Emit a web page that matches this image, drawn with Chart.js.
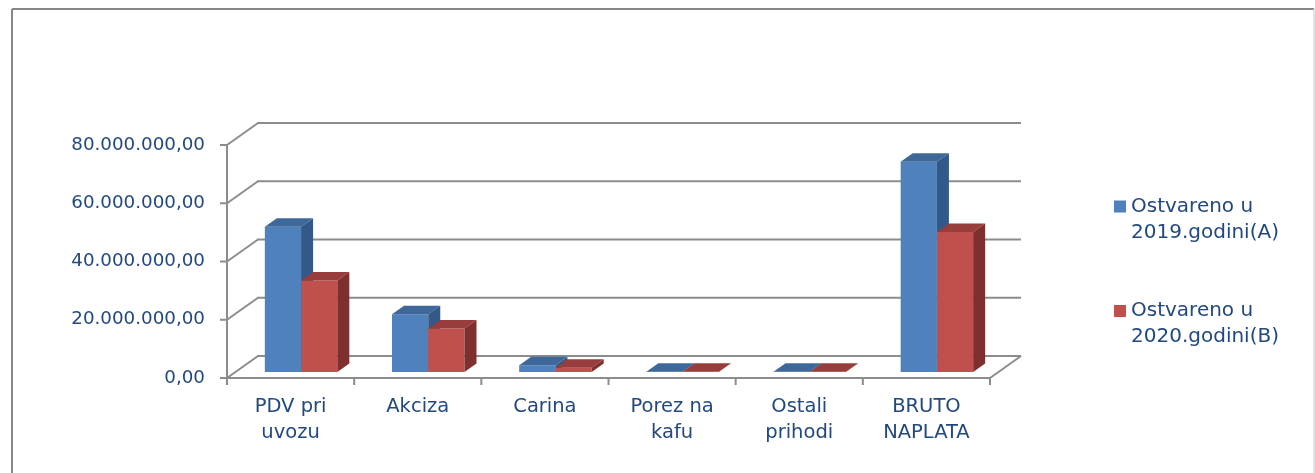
<!DOCTYPE html>
<html>
<head>
<meta charset="utf-8">
<script src="https://cdn.jsdelivr.net/npm/chart.js@4.4.0/dist/chart.umd.min.js"></script>
<style>
  html, body { margin: 0; padding: 0; background: #fff; }
  #wrap { width: 1315px; height: 473px; position: relative; }
</style>
</head>
<body>
<div id="wrap"><canvas id="chart"></canvas></div>
<script>
// data
const categories = [['PDV pri', 'uvozu'], 'Akciza', 'Carina', ['Porez na', 'kafu'], ['Ostali', 'prihodi'], ['BRUTO', 'NAPLATA']];
const realized2019 = [49900000, 19800000, 2300000, 120000, 60000, 72200000];
const realized2020 = [31400000, 14900000, 1500000, 90000, 50000, 48100000];
const seriesLabels = [['Ostvareno u', '2019.godini(A)'], ['Ostvareno u', '2020.godini(B)']];
const yTicks = [0, 20000000, 40000000, 60000000, 80000000];

const TEXT = '#22497f';
const GRID = '#8c8c8c';
const FONT = 'DejaVu Sans';
const faces = [
  { front: '#4f81bd', top: '#3e6899', side: '#33588a' },
  { front: '#c0504d', top: '#983d3b', side: '#7e302e' }
];

// depth of the back wall, bar offset and bar depth
const WALL_DX = 31, WALL_DY = 22;
const BAR_SX = 10.5, BAR_SY = -6;
const BAR_DX = 12, BAR_DY = 8.5;

function fmt(v) {
  return Math.round(v).toString().replace(/\B(?=(\d{3})+(?!\d))/g, '.') + ',00';
}

function line(ctx, x1, y1, x2, y2) {
  ctx.beginPath();
  ctx.moveTo(x1, y1);
  ctx.lineTo(x2, y2);
  ctx.stroke();
}

function poly(ctx, pts, color) {
  ctx.beginPath();
  ctx.moveTo(pts[0][0], pts[0][1]);
  for (let i = 1; i < pts.length; i++) ctx.lineTo(pts[i][0], pts[i][1]);
  ctx.closePath();
  ctx.fillStyle = color;
  ctx.fill();
}

const box3d = {
  id: 'box3d',
  beforeDraw(chart) {
    const ctx = chart.ctx;
    const { left, right, bottom, top } = chart.chartArea;
    const ys = chart.scales.y, xs = chart.scales.x;
    ctx.save();
    // outer frame
    ctx.lineWidth = 2;
    ctx.strokeStyle = '#878787';
    line(ctx, 12, 473, 12, 9);
    line(ctx, 12, 9, 1314, 9);
    ctx.strokeStyle = '#dcdcdc';
    ctx.lineWidth = 1.5;
    line(ctx, 1314, 9, 1314, 473);

    ctx.strokeStyle = GRID;
    ctx.lineWidth = 2;
    yTicks.forEach(v => {
      const py = ys.getPixelForValue(v);
      line(ctx, left, py, left + WALL_DX, py - WALL_DY);
      line(ctx, left + WALL_DX - 1, py - WALL_DY, right + WALL_DX, py - WALL_DY);
      line(ctx, left - 7, py, left, py);
    });
    line(ctx, left, top, left, bottom + 7);
    line(ctx, left, bottom, right, bottom);
    line(ctx, right, bottom, right + WALL_DX, bottom - WALL_DY);
    for (let i = 0; i <= categories.length; i++) {
      const bx = xs.getPixelForValue(i - 0.5);
      line(ctx, bx, bottom, bx, bottom + 7);
    }
    ctx.restore();
  },
  beforeDatasetsDraw(chart) {
    const ctx = chart.ctx;
    ctx.save();
    chart.data.datasets.forEach((ds, di) => {
      const meta = chart.getDatasetMeta(di);
      const f = faces[di];
      meta.data.forEach(bar => {
        const p = bar.getProps(['x', 'y', 'base', 'width'], true);
        const l = p.x - p.width / 2 + BAR_SX, r = p.x + p.width / 2 + BAR_SX;
        const t = p.y + BAR_SY, b = p.base + BAR_SY;
        poly(ctx, [[l, b], [l, t], [r, t], [r, b]], f.front);
        poly(ctx, [[l, t], [l + BAR_DX, t - BAR_DY], [r + BAR_DX, t - BAR_DY], [r, t]], f.top);
        poly(ctx, [[r, t], [r + BAR_DX, t - BAR_DY], [r + BAR_DX, b - BAR_DY], [r, b]], f.side);
      });
    });
    ctx.restore();
    return false;
  },
  afterDraw(chart) {
    const ctx = chart.ctx;
    ctx.save();
    ctx.font = '20px "' + FONT + '"';
    ctx.textBaseline = 'middle';
    ctx.textAlign = 'left';
    const rows = [206.5, 311];
    chart.data.datasets.forEach((ds, di) => {
      const cy = rows[di];
      ctx.fillStyle = faces[di].front;
      ctx.fillRect(1114, cy - 6, 12, 12);
      ctx.fillStyle = TEXT;
      seriesLabels[di].forEach((txt, k) => ctx.fillText(txt, 1131, cy + k * 26));
    });
    ctx.restore();
  }
};

new Chart(document.getElementById('chart'), {
  type: 'bar',
  data: {
    labels: categories,
    datasets: [
      { label: seriesLabels[0].join(' '), data: realized2019, backgroundColor: faces[0].front },
      { label: seriesLabels[1].join(' '), data: realized2020, backgroundColor: faces[1].front }
    ]
  },
  options: {
    responsive: true,
    maintainAspectRatio: false,
    animation: false,
    layout: { padding: { left: 0, right: 325, top: 145, bottom: 0 } },
    datasets: { bar: { categoryPercentage: 0.57, barPercentage: 1.0 } },
    plugins: { legend: { display: false }, tooltip: { enabled: false } },
    scales: {
      x: {
        grid: { display: false, drawTicks: false },
        border: { display: false },
        ticks: {
          color: TEXT, padding: 16, maxRotation: 0, autoSkip: false,
          font: { family: FONT, size: 19.5, lineHeight: 26 / 19.5 }
        },
        afterFit(scale) { scale.height = 95; }
      },
      y: {
        min: 0, max: 80000000,
        grid: { display: false, drawTicks: false },
        border: { display: false },
        afterBuildTicks(scale) { scale.ticks = yTicks.map(v => ({ value: v })); },
        ticks: {
          color: TEXT, padding: 22,
          font: { family: FONT, size: 18.3 },
          callback: v => fmt(v)
        },
        afterFit(scale) { scale.width = 227; }
      }
    }
  },
  plugins: [box3d]
});
</script>
</body>
</html>
